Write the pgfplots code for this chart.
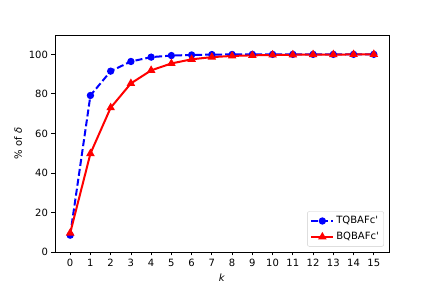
\documentclass[border=0pt]{standalone}
\usepackage{pgfplots}
\pgfplotsset{compat=1.18}
\usepackage{fontspec}
\setmainfont{DejaVu Sans}[Ligatures=TeXOff]
\begin{document}
\begin{tikzpicture}
\begin{axis}[
  scale only axis,
  width=334pt, height=217pt,
  xmin=-0.75, xmax=15.75,
  ymin=0, ymax=109.8,
  xtick={0,1,...,15},
  ytick={0,20,40,60,80,100},
  tick align=outside,
  tick pos=left,
  major tick length=3.5pt,
  tick style={black, line width=0.8pt},
  axis line style={line width=0.8pt},
  /pgf/number format/assume math mode=true,
  ticklabel style={font=\fontsize{10}{12}\selectfont},
  label style={font=\fontsize{10}{12}\selectfont},
  xlabel={\textit{k}},
  ylabel={\% of \textit{δ}},
  legend cell align=left,
  legend style={font=\fontsize{10}{12}\selectfont, draw=black!20, rounded corners=2pt, at={(0.985,0.025)}, anchor=south east, inner sep=3pt, row sep=3pt},
  legend image code/.code={\draw[#1] (0pt,0pt) -- (22pt,0pt); \draw[#1, solid] plot coordinates {(11pt,0pt)};},
]
\addplot[blue, line width=2pt, dash pattern=on 7pt off 3pt, mark=*, mark size=2.6pt, mark options={solid}] coordinates {
(0,8.5) (1,79.2) (2,91.5) (3,96.4) (4,98.6) (5,99.4) (6,99.7) (7,99.9) (8,99.95) (9,100) (10,100) (11,100) (12,100) (13,100) (14,100) (15,100)};
\addlegendentry{TQBAFc'}
\addplot[red, line width=2pt, mark=triangle*, mark size=3pt, mark options={solid}] coordinates {
(0,9.6) (1,49.8) (2,73.0) (3,85.3) (4,91.9) (5,95.4) (6,97.5) (7,98.6) (8,99.2) (9,99.5) (10,99.7) (11,99.8) (12,99.9) (13,99.9) (14,99.95) (15,100)};
\addlegendentry{BQBAFc'}
\end{axis}
\path[use as bounding box] (-55pt,-36pt) rectangle (377pt,252pt);
\end{tikzpicture}
\end{document}
